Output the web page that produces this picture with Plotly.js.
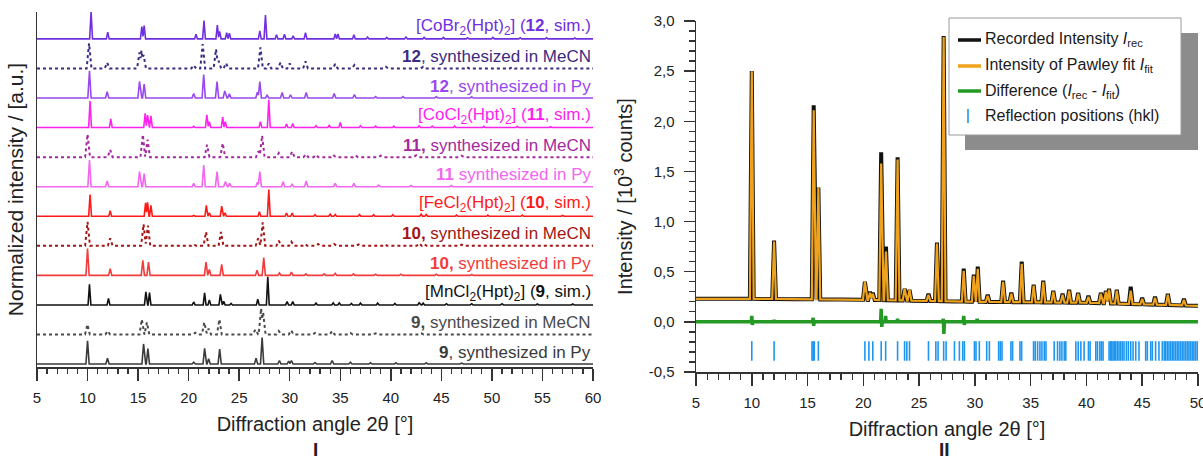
<!DOCTYPE html>
<html>
<head>
<meta charset="utf-8">
<script src="https://cdn.plot.ly/plotly-3.0.1.min.js"></script>
<style>
  html, body { margin: 0; padding: 0; background: #fff; }
  #chart { width: 1203px; height: 462px; }
</style>
</head>
<body>
<div id="chart"></div>
<script>
// ---------- Panel I: stacked powder patterns (peak positions in 2θ, normalized heights) ----------
const labels = [
  '<b>9</b>, synthesized in Py',
  '<b>9,</b> synthesized in MeCN',
  '[MnCl<sub>2</sub>(Hpt)<sub>2</sub>] (<b>9</b>, sim.)',
  '<b>10,</b> synthesized in Py',
  '<b>10,</b> synthesized in MeCN',
  '[FeCl<sub>2</sub>(Hpt)<sub>2</sub>] (<b>10</b>, sim.)',
  '<b>11</b> synthesized in Py',
  '<b>11,</b> synthesized in MeCN',
  '[CoCl<sub>2</sub>(Hpt)<sub>2</sub>] (<b>11</b>, sim.)',
  '<b>12</b>, synthesized in Py',
  '<b>12</b>, synthesized in MeCN',
  '[CoBr<sub>2</sub>(Hpt)<sub>2</sub>] (<b>12</b>, sim.)'
];

const mn_py_pos   = [10.0, 11.97, 15.54, 15.97, 20.5, 21.58, 21.98, 23.07, 26.67, 27.27, 28.98, 29.9, 30.17, 32.5, 34.2, 36.0, 38.0, 40.5, 43.5, 47.0];
const mn_py_h     = [0.79, 0.20, 0.68, 0.52, 0.06, 0.53, 0.18, 0.51, 0.20, 0.90, 0.12, 0.10, 0.12, 0.05, 0.12, 0.06, 0.04, 0.04, 0.04, 0.03];
const mn_mecn_pos = [9.99, 12.0, 15.37, 15.87, 20.66, 21.55, 21.98, 23.04, 26.6, 27.17, 27.37, 28.92, 30.14, 32.5, 34.2, 36.0, 38.5, 43.0, 47.0];
const mn_mecn_h   = [0.34, 0.12, 0.51, 0.41, 0.06, 0.41, 0.20, 0.51, 0.17, 0.88, 0.75, 0.12, 0.14, 0.05, 0.12, 0.05, 0.04, 0.04, 0.03];
const mn_sim_pos  = [10.19, 12.07, 15.77, 16.13, 20.5, 21.58, 22.05, 23.14, 23.47, 24.2, 26.84, 27.83, 29.74, 30.3, 32.6, 34.3, 34.9, 36.1, 37.0, 38.7, 40.4, 42.8, 43.2, 45.5, 48.0, 51.0, 54.5, 58.0];
const mn_sim_h    = [0.70, 0.22, 0.44, 0.42, 0.10, 0.41, 0.17, 0.36, 0.12, 0.05, 0.19, 0.95, 0.11, 0.11, 0.06, 0.07, 0.07, 0.05, 0.06, 0.06, 0.05, 0.07, 0.06, 0.04, 0.04, 0.04, 0.03, 0.03];

const fe_py_pos   = [10.0, 12.24, 15.47, 16.03, 21.72, 22.05, 23.27, 26.77, 27.43, 28.98, 30.17, 31.6, 33.4, 34.5, 36.3, 38.5, 41.0, 44.5, 48.0];
const fe_py_h     = [0.91, 0.23, 0.51, 0.45, 0.45, 0.20, 0.37, 0.17, 0.60, 0.08, 0.11, 0.05, 0.05, 0.07, 0.05, 0.04, 0.04, 0.04, 0.03];
const fe_mecn_pos = [10.0, 12.24, 15.54, 15.97, 20.5, 21.72, 23.2, 26.87, 27.33, 28.92, 30.17, 31.5, 32.8, 34.4, 36.8, 39.4, 42.8, 43.3, 47.0];
const fe_mecn_h   = [0.81, 0.25, 0.73, 0.68, 0.05, 0.47, 0.47, 0.25, 0.79, 0.17, 0.14, 0.06, 0.06, 0.06, 0.05, 0.05, 0.08, 0.06, 0.04];
const fe_sim_pos  = [10.25, 12.24, 15.74, 15.94, 16.27, 20.5, 21.75, 22.05, 23.27, 23.6, 27.0, 27.93, 29.68, 30.24, 32.5, 34.0, 34.5, 36.9, 38.3, 40.2, 43.0, 43.5, 46.5, 49.6, 53.0, 57.0];
const fe_sim_h    = [0.73, 0.19, 0.45, 0.47, 0.37, 0.03, 0.37, 0.12, 0.34, 0.12, 0.15, 0.90, 0.11, 0.11, 0.05, 0.07, 0.06, 0.06, 0.05, 0.05, 0.07, 0.06, 0.04, 0.04, 0.04, 0.03];

const cocl_py_pos   = [10.19, 11.94, 15.14, 15.6, 20.5, 21.49, 22.81, 23.63, 24.06, 26.8, 27.04, 29.35, 30.24, 31.63, 34.5, 36.35, 38.8, 42.0, 46.0];
const cocl_py_h     = [0.90, 0.19, 0.51, 0.44, 0.11, 0.73, 0.51, 0.17, 0.11, 0.15, 0.51, 0.17, 0.08, 0.19, 0.11, 0.11, 0.05, 0.04, 0.04];
const cocl_mecn_pos = [10.0, 12.24, 15.47, 15.94, 21.82, 23.37, 26.9, 27.27, 28.92, 30.24, 31.6, 32.6, 34.3, 36.5, 39.0, 42.5, 47.0];
const cocl_mecn_h   = [0.78, 0.25, 0.76, 0.59, 0.42, 0.47, 0.20, 0.73, 0.14, 0.19, 0.10, 0.08, 0.08, 0.06, 0.05, 0.06, 0.05];
const cocl_sim_pos  = [10.25, 12.3, 15.7, 15.94, 16.27, 20.5, 21.8, 22.05, 23.37, 23.63, 27.1, 27.93, 29.68, 30.3, 32.6, 33.9, 35.0, 37.0, 38.5, 40.3, 42.8, 44.1, 46.3, 49.2, 52.5, 55.8];
const cocl_sim_h    = [0.90, 0.29, 0.48, 0.42, 0.40, 0.04, 0.43, 0.20, 0.35, 0.20, 0.20, 0.94, 0.12, 0.14, 0.06, 0.07, 0.17, 0.06, 0.05, 0.05, 0.06, 0.05, 0.05, 0.04, 0.04, 0.03];

const cobr_py_pos   = [10.19, 11.94, 15.14, 15.6, 20.5, 21.49, 22.81, 23.57, 24.03, 26.8, 27.04, 27.76, 29.25, 30.08, 31.63, 34.4, 36.4, 38.5, 41.2, 44.5, 48.0];
const cobr_py_h     = [0.92, 0.21, 0.56, 0.47, 0.15, 0.79, 0.56, 0.24, 0.14, 0.20, 0.56, 0.09, 0.19, 0.11, 0.19, 0.15, 0.12, 0.05, 0.05, 0.05, 0.04];
const cobr_mecn_pos = [10.15, 11.94, 15.14, 15.34, 15.54, 20.5, 21.39, 22.71, 22.97, 23.7, 27.1, 27.93, 29.08, 30.0, 31.56, 34.5, 36.4, 39.5, 43.2, 47.5, 52.0];
const cobr_mecn_h   = [0.85, 0.20, 0.54, 0.60, 0.46, 0.11, 0.82, 0.65, 0.26, 0.18, 0.71, 0.17, 0.20, 0.17, 0.24, 0.15, 0.12, 0.06, 0.06, 0.05, 0.04];
const cobr_sim_pos  = [10.35, 12.0, 15.37, 15.6, 20.73, 21.52, 22.84, 23.07, 23.76, 24.03, 27.04, 27.6, 28.69, 29.48, 30.34, 31.56, 34.5, 34.77, 36.35, 37.7, 39.6, 41.5, 43.3, 45.2, 47.6, 50.1, 52.8, 55.4, 58.2];
const cobr_sim_h    = [0.92, 0.23, 0.42, 0.45, 0.16, 0.62, 0.47, 0.25, 0.21, 0.19, 0.27, 0.81, 0.14, 0.16, 0.10, 0.21, 0.17, 0.17, 0.14, 0.06, 0.05, 0.06, 0.05, 0.05, 0.04, 0.05, 0.04, 0.04, 0.03];

// ---------- Panel II: Pawley refinement (intensity in 10^3 counts) ----------
const bgX = [5, 10, 20, 30, 40, 50];
const bgY = [0.23, 0.23, 0.22, 0.20, 0.19, 0.16];
const pawleyPos = [10.0, 12.0, 15.55, 15.97, 20.14, 20.6, 20.85, 21.6, 22.03, 23.07, 23.7, 24.14, 25.84, 26.6, 27.2, 29.0, 29.9, 30.26, 31.15, 32.53, 33.27, 34.2, 35.27, 36.13, 37.03, 37.86, 38.45, 39.26, 40.18, 41.29, 41.74, 42.03, 42.72, 43.97, 45.0, 46.15, 47.3, 48.74];
const fitTop    = [2.50, 0.80, 2.11, 1.34, 0.40, 0.29, 0.28, 1.58, 0.70, 1.62, 0.33, 0.32, 0.27, 0.78, 2.84, 0.51, 0.46, 0.53, 0.26, 0.40, 0.28, 0.58, 0.36, 0.40, 0.30, 0.27, 0.31, 0.28, 0.25, 0.28, 0.30, 0.32, 0.31, 0.31, 0.23, 0.24, 0.27, 0.22];
const recTop    = [2.50, 0.81, 2.16, 1.34, 0.40, 0.30, 0.29, 1.69, 0.75, 1.64, 0.33, 0.32, 0.28, 0.79, 2.85, 0.53, 0.47, 0.55, 0.27, 0.41, 0.29, 0.60, 0.37, 0.41, 0.31, 0.28, 0.32, 0.29, 0.26, 0.29, 0.31, 0.33, 0.32, 0.35, 0.24, 0.25, 0.28, 0.23];
const diffX = [5, 9.95, 10.0, 10.05, 10.1, 11.95, 12.0, 12.05, 15.45, 15.5, 15.55, 15.6, 21.55, 21.6, 21.65, 21.7, 21.95, 22.0, 22.05, 23.02, 23.07, 23.12, 27.12, 27.17, 27.22, 27.27, 28.95, 29.0, 29.05, 29.1, 30.15, 30.2, 30.25, 50];
const diffY = [0, 0, 0.06, -0.03, 0, 0, 0.02, 0, 0, 0.04, -0.04, 0, 0, 0.13, -0.05, 0, 0, 0.06, 0, 0, 0.03, 0, 0, 0.03, -0.12, 0, 0, 0.06, -0.03, 0, 0, 0.03, 0, 0];
const reflections = [10.0, 12.0, 15.4, 15.5, 15.6, 15.97, 20.14, 20.5, 20.85, 21.6, 22.0, 23.07, 23.7, 23.9, 24.14, 25.84, 26.5, 26.7, 27.2, 27.42, 28.17, 28.61, 28.91, 29.06, 29.96, 30.10, 30.40, 31.06, 31.30, 32.13, 32.28, 32.43, 33.23, 33.38, 34.04, 34.19, 35.26, 35.41, 35.62, 35.83, 36.01, 36.22, 36.37, 37.11, 37.41, 37.62, 37.80, 38.01, 38.15, 39.05, 39.26, 39.50, 39.79, 40.18, 40.33, 40.84, 40.99, 41.20, 41.34, 41.49, 42.03, 42.18, 42.27, 42.39, 42.51, 42.63, 42.78, 42.92, 43.07, 43.22, 43.37, 43.58, 43.76, 43.97, 44.18, 44.42, 44.71, 45.31, 45.46, 45.76, 45.91, 46.20, 46.50, 46.80, 46.98, 47.10, 47.25, 47.40, 47.55, 47.70, 47.84, 47.99, 48.14, 48.29, 48.44, 48.59, 48.74, 48.89, 49.04, 49.19, 49.33, 49.48, 49.63, 49.78, 49.93];

const yTickVals2 = [-0.5, 0, 0.5, 1, 1.5, 2, 2.5, 3];
const yTickText2 = ['-0,5', '0,0', '0,5', '1,0', '1,5', '2,0', '2,5', '3,0'];
const xTickVals2 = [5, 10, 15, 20, 25, 30, 35, 40, 45, 50];

// ---------- drawing helpers ----------
const FONT = 'Liberation Sans, Arial, Helvetica, sans-serif';
const W = 1203, H = 462;
const px = v => v / W;          // pixel -> paper x
const py = v => 1 - v / H;      // pixel -> paper y

// narrow spike for every reflection; the vertex list holds feet, tops and mid-points
function spikes(pos, amp, w, xmin, xmax) {
  const xs = [xmin, xmax];
  pos.forEach((p, i) => {
    xs.push(p - w, p, p + w);
    if (i + 1 < pos.length) xs.push((p + pos[i + 1]) / 2);
  });
  xs.sort((a, b) => a - b);
  const ys = xs.map(x => {
    let m = 0;
    pos.forEach((p, i) => {
      const d = Math.abs(x - p);
      if (d < w) m = Math.max(m, amp[i] * (1 - d / w));
    });
    return m;
  });
  return { x: xs, y: ys };
}

function background(x) {
  for (let i = 0; i < bgX.length - 1; i++) {
    if (x <= bgX[i + 1]) {
      const t = (x - bgX[i]) / (bgX[i + 1] - bgX[i]);
      return bgY[i] + t * (bgY[i + 1] - bgY[i]);
    }
  }
  return bgY[bgY.length - 1];
}

// stacked series, bottom to top
const stack = [
  { pos: mn_py_pos,     h: mn_py_h,     color: '#3a3a3a', dash: 'solid', w: 0.16, lw: 1.6 },
  { pos: mn_mecn_pos,   h: mn_mecn_h,   color: '#4a4a4a', dash: 'dot',   w: 0.24, lw: 2.0 },
  { pos: mn_sim_pos,    h: mn_sim_h,    color: '#111111', dash: 'solid', w: 0.14, lw: 1.6 },
  { pos: fe_py_pos,     h: fe_py_h,     color: '#f23c3c', dash: 'solid', w: 0.16, lw: 1.6 },
  { pos: fe_mecn_pos,   h: fe_mecn_h,   color: '#a31515', dash: 'dot',   w: 0.24, lw: 2.0 },
  { pos: fe_sim_pos,    h: fe_sim_h,    color: '#ff1a1a', dash: 'solid', w: 0.14, lw: 1.6 },
  { pos: cocl_py_pos,   h: cocl_py_h,   color: '#f266f0', dash: 'solid', w: 0.16, lw: 1.6 },
  { pos: cocl_mecn_pos, h: cocl_mecn_h, color: '#a52a9e', dash: 'dot',   w: 0.24, lw: 2.0 },
  { pos: cocl_sim_pos,  h: cocl_sim_h,  color: '#ff22ee', dash: 'solid', w: 0.14, lw: 1.6 },
  { pos: cobr_py_pos,   h: cobr_py_h,   color: '#9848f0', dash: 'solid', w: 0.16, lw: 1.6 },
  { pos: cobr_mecn_pos, h: cobr_mecn_h, color: '#3c2a80', dash: 'dot',   w: 0.24, lw: 2.0 },
  { pos: cobr_sim_pos,  h: cobr_sim_h,  color: '#7030e0', dash: 'solid', w: 0.14, lw: 1.6 }
];

const traces = [];
const annotations = [];

stack.forEach((s, k) => {
  const prof = spikes(s.pos, s.h, s.w, 5, 60);
  traces.push({
    type: 'scatter', mode: 'lines', xaxis: 'x', yaxis: 'y',
    x: prof.x, y: prof.y.map(v => v + k),
    line: { color: s.color, width: s.lw, dash: s.dash },
    hoverinfo: 'skip', showlegend: false
  });
  annotations.push({
    xref: 'paper', yref: 'y', x: px(593), y: k + 0.40,
    xanchor: 'right', yanchor: 'middle', showarrow: false,
    text: labels[k], font: { family: FONT, size: 17, color: s.color }
  });
});

// panel II curves
const recProf = spikes(pawleyPos, recTop.map((v, i) => v - background(pawleyPos[i])), 0.17, 5, 50);
const fitProf = spikes(pawleyPos, fitTop.map((v, i) => v - background(pawleyPos[i])), 0.17, 5, 50);

traces.push({
  type: 'scatter', mode: 'lines', xaxis: 'x2', yaxis: 'y2',
  x: recProf.x, y: recProf.y.map((v, i) => v + background(recProf.x[i])),
  line: { color: '#111111', width: 4 }, hoverinfo: 'skip', showlegend: false
});
traces.push({
  type: 'scatter', mode: 'lines', xaxis: 'x2', yaxis: 'y2',
  x: fitProf.x, y: fitProf.y.map((v, i) => v + background(fitProf.x[i])),
  line: { color: '#efa21c', width: 2.2 }, hoverinfo: 'skip', showlegend: false
});
traces.push({
  type: 'scatter', mode: 'lines', xaxis: 'x2', yaxis: 'y2',
  x: diffX, y: diffY,
  line: { color: '#249a24', width: 3.5 }, hoverinfo: 'skip', showlegend: false
});
traces.push({
  type: 'scatter', mode: 'markers', xaxis: 'x2', yaxis: 'y2',
  x: reflections, y: reflections.map(() => -0.29),
  marker: { symbol: 'line-ns', size: 14, color: '#1e96f0', line: { width: 1.6, color: '#1e96f0' } },
  hoverinfo: 'skip', showlegend: false
});

// legend box of panel II (drawn by hand for the drop shadow)
const shapes = [
  { type: 'rect', xref: 'paper', yref: 'paper', x0: px(965), x1: px(1198), y0: py(150), y1: py(33),
    fillcolor: '#8c8c8c', line: { width: 0 }, layer: 'above' },
  { type: 'rect', xref: 'paper', yref: 'paper', x0: px(949), x1: px(1181), y0: py(135), y1: py(18),
    fillcolor: '#ffffff', line: { width: 1, color: '#9a9a9a' }, layer: 'above' }
];
const legendRows = [
  { text: 'Recorded Intensity <i>I</i><sub>rec</sub>', color: '#111111', kind: 'line' },
  { text: 'Intensity of Pawley fit <i>I</i><sub>fit</sub>', color: '#efa21c', kind: 'line' },
  { text: 'Difference (<i>I</i><sub>rec</sub> - <i>I</i><sub>fit</sub>)', color: '#249a24', kind: 'line' },
  { text: 'Reflection positions (hkl)', color: '#1e96f0', kind: 'tick' }
];
const rowY = [40, 66, 91, 116];
legendRows.forEach((r, i) => {
  if (r.kind === 'line') {
    shapes.push({ type: 'line', xref: 'paper', yref: 'paper', x0: px(958), x1: px(981),
      y0: py(rowY[i]), y1: py(rowY[i]), line: { color: r.color, width: 3.5 }, layer: 'above' });
  } else {
    shapes.push({ type: 'line', xref: 'paper', yref: 'paper', x0: px(968), x1: px(968),
      y0: py(rowY[i] - 7), y1: py(rowY[i] + 7), line: { color: r.color, width: 1.6 }, layer: 'above' });
  }
  annotations.push({
    xref: 'paper', yref: 'paper', x: px(983), y: py(rowY[i]),
    xanchor: 'left', yanchor: 'middle', showarrow: false,
    text: r.text, font: { family: FONT, size: 16, color: '#1a1a1a' }
  });
});

// panel captions
annotations.push({ xref: 'paper', yref: 'paper', x: px(315), y: py(449), xanchor: 'center', yanchor: 'middle',
  showarrow: false, text: '<b>I</b>', font: { family: FONT, size: 19, color: '#222' } });
annotations.push({ xref: 'paper', yref: 'paper', x: px(944), y: py(449), xanchor: 'center', yanchor: 'middle',
  showarrow: false, text: '<b>II</b>', font: { family: FONT, size: 19, color: '#222' } });

const axisLine = { showline: true, linecolor: '#333', linewidth: 1.5, showgrid: false, zeroline: false };

const layout = {
  width: W, height: H,
  margin: { l: 0, r: 0, t: 0, b: 0 },
  paper_bgcolor: '#ffffff', plot_bgcolor: 'rgba(0,0,0,0)',
  font: { family: FONT, color: '#222' },
  showlegend: false,
  xaxis: Object.assign({}, axisLine, {
    domain: [px(37), px(593)], range: [5, 60], anchor: 'y',
    tick0: 5, dtick: 5, ticks: 'outside', ticklen: 12, tickwidth: 1.5, tickcolor: '#333',
    minor: { dtick: 1, ticks: 'outside', ticklen: 5, tickwidth: 1.3, tickcolor: '#333' },
    tickfont: { family: FONT, size: 15, color: '#222' }, ticklabelstandoff: 4,
    title: { text: 'Diffraction angle 2θ [°]', font: { family: FONT, size: 20, color: '#222' }, standoff: 12 }
  }),
  yaxis: Object.assign({}, axisLine, {
    domain: [1 - 367 / H, 1 - 12 / H], range: [-0.10, 11.91], anchor: 'x',
    showticklabels: false, ticks: '',
    title: { text: 'Normalized intensity / [a.u.]', font: { family: FONT, size: 21, color: '#222' }, standoff: 6 }
  }),
  xaxis2: Object.assign({}, axisLine, {
    domain: [px(696), px(1198)], range: [5, 50.001], anchor: 'y2',
    tickmode: 'array', tickvals: xTickVals2, ticktext: xTickVals2.map(String),
    ticklabeloverflow: 'allow',
    ticks: 'outside', ticklen: 12, tickwidth: 1.5, tickcolor: '#333',
    minor: { dtick: 1, tick0: 5, ticks: 'outside', ticklen: 6, tickwidth: 1.3, tickcolor: '#333' },
    tickfont: { family: FONT, size: 15, color: '#222' }, ticklabelstandoff: 4,
    title: { text: 'Diffraction angle 2θ [°]', font: { family: FONT, size: 20, color: '#222' }, standoff: 12 }
  }),
  yaxis2: Object.assign({}, axisLine, {
    domain: [1 - 372 / H, 1 - 21 / H], range: [-0.5, 3.0], anchor: 'x2',
    tickmode: 'array', tickvals: yTickVals2, ticktext: yTickText2,
    ticks: 'outside', ticklen: 11, tickwidth: 1.5, tickcolor: '#333',
    minor: { dtick: 0.1, tick0: 0, ticks: 'outside', ticklen: 6, tickwidth: 1.3, tickcolor: '#333' },
    tickfont: { family: FONT, size: 15, color: '#222' }, ticklabelstandoff: 6,
    title: { text: 'Intensity / [10<sup>3</sup> counts]', font: { family: FONT, size: 20, color: '#222' }, standoff: 10 }
  }),
  shapes: shapes,
  annotations: annotations
};

Plotly.newPlot('chart', traces, layout, { displayModeBar: false, staticPlot: true });
</script>
</body>
</html>
